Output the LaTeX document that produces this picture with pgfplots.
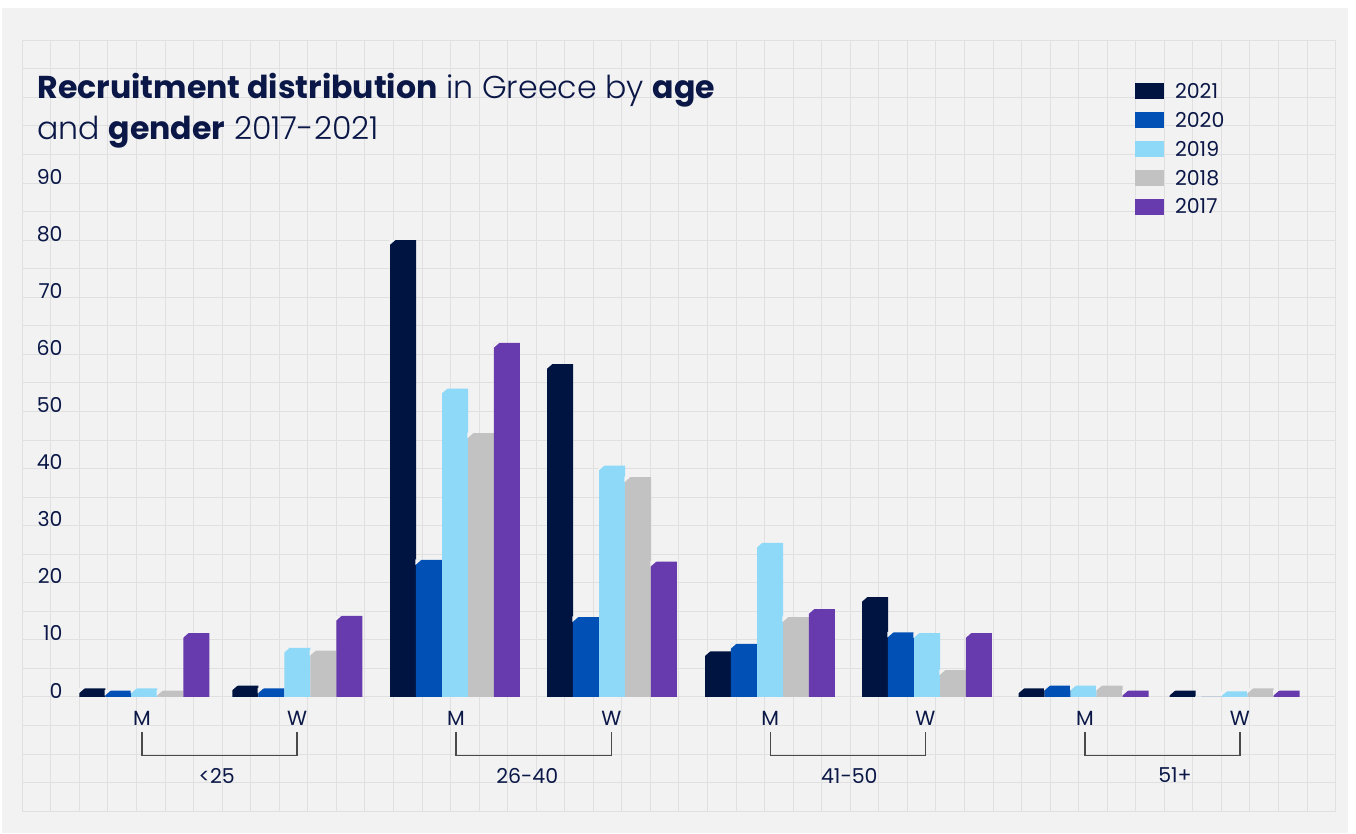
\documentclass[border=0pt]{standalone}
\usepackage{pgfplots}
\pgfplotsset{compat=1.18}
\usepackage{pgfplotstable}
\usepackage{fontspec}
\setmainfont{Poppins}
\IfFontExistsTF{Poppins Light}{\newfontfamily\lightfont{Poppins Light}}{\newfontfamily\lightfont{Poppins}}

\definecolor{c2021}{HTML}{001442}
\definecolor{c2020}{HTML}{0050B5}
\definecolor{c2019}{HTML}{8ED8F8}
\definecolor{c2018}{HTML}{C2C2C2}
\definecolor{c2017}{HTML}{673AAD}
\definecolor{bg}{HTML}{F2F2F2}
\definecolor{gridc}{HTML}{E0E0E0}
\definecolor{navy}{HTML}{0B1847}
\definecolor{brk}{HTML}{4A4A4A}

\pgfdeclareplotmark{chamfer}{%
  \pgfpathmoveto{\pgfqpoint{-6.8pt}{0.3pt}}%
  \pgfpathlineto{\pgfqpoint{-3.6pt}{0.3pt}}%
  \pgfpathlineto{\pgfqpoint{-6.8pt}{-2.5pt}}%
  \pgfpathclose\pgfusepathqfill}

% group centre (axis units), values per year
\pgfplotstableread{
pos    y2021 y2020 y2019 y2018 y2017
4.273  1.5   1.1   1.5   1.1   11.2
9.632  2.0   1.5   8.6   8.1   14.2
15.156 80.0  24.0  54.0  46.2  62.0
20.655 58.3  14.0  40.5  38.5  23.7
26.189 8.0   9.3   27.0  14.0  15.4
31.688 17.5  11.3  11.2  4.7   11.2
37.177 1.5   2.0   2.0   2.0   1.1
42.466 1.1   0.0   1.0   1.5   1.1
}\datatable

\newcommand{\tfont}{\fontsize{10.25}{12}\selectfont}

\begin{document}
\begin{tikzpicture}
\path[use as bounding box, fill=white] (-11.15pt,-11.4pt) rectangle (666.85pt,405.6pt);
\fill[bg] (-10.15pt,-10.9pt) rectangle (662.85pt,401.6pt);
\begin{axis}[
  at={(0pt,0pt)}, anchor=south west,
  x=14.275pt, y=2.855pt,
  xmin=0, xmax=46, ymin=-20, ymax=115,
  enlargelimits=false, clip=false,
  axis line style={draw=none},
  tick style={draw=none},
  major tick length=0pt, minor tick length=0pt,
  /pgf/number format/assume math mode=true,
  ytick={0,10,...,90},
  minor ytick={-20,-15,...,115},
  xtick={4.193,9.622,15.191,20.630,26.200,31.629,37.222,42.651},
  xticklabels={M,W,M,W,M,W,M,W},
  minor xtick={0,1,...,46},
  xmajorgrids=false, xminorgrids=true,
  ymajorgrids=true, yminorgrids=true,
  major grid style={gridc, line width=0.5pt},
  minor grid style={gridc, line width=0.5pt},
  ticklabel style={font=\tfont, text=navy, inner sep=0pt},
  yticklabel style={anchor=east, xshift=20.35pt, yshift=3.25pt},
  xticklabel style={anchor=base, yshift=42.85pt},
  ybar, bar width=13pt,
  every axis plot/.append style={bar shift=0pt, draw=none, mark=chamfer, mark options={fill=bg, draw=none}},
  legend style={at={(0.8473,0.9443)}, anchor=north west, draw=none, fill=none,
    inner sep=0pt, outer sep=0pt, row sep=5.3pt, column sep=5.5pt,
    font=\tfont, text=navy, nodes={inner sep=0pt, outer sep=0pt}},
  legend cell align=left,
  legend image code/.code={\fill[#1] (0pt,-3.4pt) rectangle (14.5pt,4.6pt);},
]
\addplot[fill=c2021] table[x expr=\thisrow{pos}-1.821, y=y2021] {\datatable};
\addplot[fill=c2020] table[x expr=\thisrow{pos}-0.911, y=y2020] {\datatable};
\addplot[fill=c2019] table[x expr=\thisrow{pos}, y=y2019] {\datatable};
\addplot[fill=c2018] table[x expr=\thisrow{pos}+0.911, y=y2018] {\datatable};
\addplot[fill=c2017] table[x expr=\thisrow{pos}+1.821, y=y2017] {\datatable};
\legend{2021,2020,2019,2018,2017}

% brackets for age groups
\draw[brk, line width=0.6pt] (axis cs:4.193,-6.08) |- (axis cs:9.622,-10.25) -- (axis cs:9.622,-6.08);
\draw[brk, line width=0.6pt] (axis cs:15.191,-6.08) |- (axis cs:20.630,-10.25) -- (axis cs:20.630,-6.08);
\draw[brk, line width=0.6pt] (axis cs:26.200,-6.08) |- (axis cs:31.629,-10.25) -- (axis cs:31.629,-6.08);
\draw[brk, line width=0.6pt] (axis cs:37.222,-6.08) |- (axis cs:42.651,-10.25) -- (axis cs:42.651,-6.08);
\node[font=\tfont, text=navy, inner sep=0pt] at (axis cs:6.809,-13.75) {<25};
\node[font=\tfont, text=navy, inner sep=0pt] at (axis cs:17.688,-13.75) {26-40};
\node[font=\tfont, text=navy, inner sep=0pt] at (axis cs:28.967,-13.75) {41-50};
\node[font=\tfont, text=navy, inner sep=0pt] at (axis cs:40.375,-13.75) {51+};
\end{axis}
\node[anchor=base west, inner sep=0pt, text=navy, font=\fontsize{15.8}{19}\selectfont] at (7.35pt,356.45pt)
  {\textbf{Recruitment distribution}{\lightfont\ in Greece by }\textbf{age}};
\node[anchor=base west, inner sep=0pt, text=navy, font=\fontsize{15.8}{19}\selectfont] at (7.35pt,335.95pt)
  {{\lightfont and }\textbf{gender}{\lightfont\ 2017-2021}};
\end{tikzpicture}
\end{document}
